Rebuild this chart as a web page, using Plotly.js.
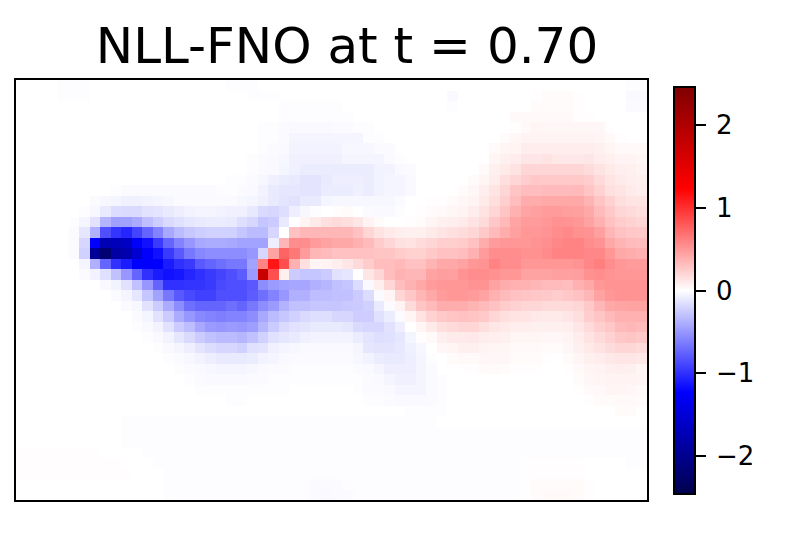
<!DOCTYPE html>
<html><head><meta charset="utf-8">
<script src="https://cdn.plot.ly/plotly-3.0.1.min.js"></script>
<style>html,body{margin:0;padding:0;background:#fff}</style></head>
<body><div id="chart" style="width:785px;height:535px"></div>
<script>
const chartTitle = "NLL-FNO at t = 0.70";
const colorTicks = [-2,-1,0,1,2];
const colorLimit = 2.46;
// field values in hundredths, 60 columns by 40 rows
const r00=[0,0,0,0,-1,-1,-1,0,0,0, 0,0,0,0,0,0,0,0,0,0, -1,-1,-1,0,0,0,0,0,0,0, 0,0,0,0,0,0,0,0,0,0, 0,0,0,0,0,0,0,0,0,0, 0,0,0,0,0,0,0,0,-1,-1];
const r01=[0,0,0,0,-1,-1,-1,0,0,0, 0,0,0,0,0,0,0,0,0,0, 0,0,-1,-1,-1,0,0,0,0,0, 0,0,0,0,0,0,0,0,0,0, 0,-3,0,0,0,0,0,0,0,1, 2,2,2,1,0,0,0,0,-3,-3];
const r02=[0,0,0,0,0,0,0,0,0,0, 0,0,0,0,0,0,0,0,0,0, 0,0,0,0,0,-1,-1,-1,-1,-1, -1,0,0,0,0,0,0,0,0,0, 0,-1,0,0,0,0,0,0,0,2, 2,2,2,1,0,0,0,0,-2,-2];
const r03=[0,0,0,0,0,0,0,0,0,0, 0,0,0,0,0,0,0,0,0,0, 0,0,0,0,0,-1,-1,-1,-1,-1, -1,-1,0,0,0,0,0,0,0,0, 0,0,0,0,0,0,0,3,3,3, 3,3,3,1,1,0,0,0,0,0];
const r04=[0,0,0,0,0,0,0,0,0,0, 0,0,0,0,0,0,0,0,0,0, 0,0,0,-1,-1,-2,-3,-3,-3,-3, -2,-2,-1,-1,0,0,0,0,0,0, 0,0,0,0,0,0,0,1,3,5, 4,4,4,4,4,4,1,0,0,0];
const r05=[0,0,0,0,0,0,0,0,0,0, 0,0,0,0,0,0,0,0,0,0, 0,0,0,-1,-1,-2,-5,-5,-5,-5, -5,-5,-5,-1,-1,0,0,0,0,0, 0,0,0,0,0,0,2,4,6,6, 6,6,6,6,6,5,3,1,0,0];
const r06=[0,0,0,0,0,0,0,0,0,0, 0,0,0,0,0,0,0,0,0,0, 0,0,0,-1,-2,-3,-6,-6,-6,-6, -6,-4,-4,-4,-2,-2,0,0,0,0, 0,0,0,0,0,3,5,6,9,9, 9,9,9,9,9,7,5,3,3,3];
const r07=[0,0,0,0,0,0,0,0,0,0, 0,0,0,0,0,0,0,0,0,0, 0,0,-1,-2,-3,-4,-7,-7,-7,-7, -7,-5,-5,-5,-5,-2,-1,0,0,0, 0,0,0,0,0,5,7,9,12,12, 14,11,11,11,12,9,7,6,6,4];
const r08=[0,0,0,0,0,0,0,0,0,0, 0,0,0,0,0,0,0,0,0,0, 0,0,-1,-2,-3,-5,-7,-9,-9,-9, -9,-9,-9,-9,-6,-6,-3,-2,0,0, 0,0,0,0,3,7,10,14,20,20, 20,20,20,20,17,14,10,8,7,6];
const r09=[0,0,0,0,0,0,0,0,0,0, 0,0,0,0,0,0,0,0,0,0, -1,-1,-2,-4,-7,-9,-10,-13,-13,-10, -8,-8,-8,-9,-6,-5,-5,-3,0,0, 0,0,0,2,5,9,16,20,24,27, 26,26,26,26,24,18,13,10,8,7];
const r10=[0,0,0,0,0,0,0,0,0,-1, -2,-2,-2,-2,-2,-2,-2,-2,-2,-1, -1,-2,-3,-6,-10,-12,-12,-13,-13,-9, -9,-9,-7,-9,-6,-5,-5,-3,0,0, 0,0,2,4,8,13,20,28,32,32, 33,33,33,34,28,22,15,13,10,8];
const r11=[0,0,0,0,0,0,0,-2,-4,-5, -7,-7,-6,-5,-4,-2,-2,-2,-2,-2, -2,-4,-5,-7,-10,-13,-14,-10,-10,-5, -4,-4,-4,-4,-4,-4,-2,0,0,1, 1,2,4,6,10,16,23,32,40,40, 42,42,42,42,36,28,22,16,13,13];
const r12=[0,0,0,0,0,0,-1,-4,-10,-17, -18,-18,-14,-13,-10,-8,-6,-5,-5,-6, -7,-7,-11,-18,-20,-16,-8,-4,-1,0, 1,2,0,-2,-3,-3,-1,0,1,2, 3,4,6,9,14,20,28,38,44,46, 48,48,47,46,42,33,26,20,18,16];
const r13=[0,0,0,0,0,-1,-5,-14,-36,-46, -46,-41,-31,-24,-18,-15,-12,-10,-9,-9, -10,-16,-20,-28,-25,-10,0,6,10,15, 18,16,12,6,2,0,0,1,2,5, 7,8,10,14,18,27,34,44,48,48, 50,53,52,50,45,38,30,25,22,20];
const r14=[0,0,0,0,0,-2,-12,-38,-85,-98, -105,-90,-75,-60,-42,-33,-27,-24,-22,-22, -22,-28,-33,-33,-20,0,30,35,35,35, 35,35,30,20,14,10,8,7,7,10, 13,15,17,20,26,33,40,46,50,50, 52,55,57,53,52,46,35,30,27,26];
const r15=[0,0,0,0,0,-2,-20,-123,-175,-170, -165,-125,-115,-95,-75,-60,-50,-42,-40,-40, -42,-45,-45,-45,-8,35,55,55,48,45, 42,42,38,33,25,20,15,14,17,20, 23,23,25,30,40,48,50,50,50,52, 54,58,60,60,55,52,42,36,33,32];
const r16=[0,0,0,0,0,-2,-22,-195,-220,-185, -180,-155,-125,-115,-95,-80,-65,-58,-55,-55, -55,-55,-50,-20,45,75,65,48,35,33, 30,30,30,30,28,28,25,22,22,26, 30,30,32,38,48,55,55,55,53,53, 56,60,60,60,58,58,50,42,40,38];
const r17=[0,0,0,0,0,0,-5,-38,-75,-100, -110,-123,-125,-123,-110,-100,-95,-80,-75,-70, -65,-65,-45,60,113,85,38,15,5,6, 8,12,18,25,32,32,34,30,30,36, 42,42,45,50,52,60,55,55,50,50, 50,50,50,52,58,62,55,50,48,48];
const r18=[0,0,0,0,0,0,-2,-6,-15,-30, -50,-75,-100,-110,-115,-112,-105,-100,-95,-90, -85,-78,-48,176,85,7,-25,-28,-28,-25, -14,-12,0,12,20,32,37,35,35,45, 47,46,52,55,55,53,50,50,45,45, 45,46,46,47,53,55,52,50,50,50];
const r19=[0,0,0,0,0,0,0,0,-3,-6, -14,-30,-50,-75,-100,-100,-98,-98,-95,-88, -85,-85,-80,-55,-48,-45,-43,-43,-38,-35, -30,-28,-17,-3,8,20,32,37,42,48, 50,50,50,52,52,45,40,38,37,35, 33,33,32,38,42,50,52,52,52,52];
const r20=[0,0,0,0,0,0,0,0,0,-2, -5,-12,-28,-45,-65,-80,-88,-92,-92,-85, -85,-85,-78,-70,-60,-50,-38,-38,-32,-32, -30,-30,-25,-17,-2,5,20,27,35,42, 48,50,50,48,45,38,33,30,28,27, 26,24,27,30,35,45,50,52,52,52];
const r21=[0,0,0,0,0,0,0,0,0,0, -2,-4,-14,-25,-40,-55,-70,-75,-75,-75, -70,-75,-65,-55,-48,-37,-30,-30,-28,-28, -28,-26,-25,-22,-10,-2,6,18,28,33, 40,40,40,36,33,30,25,22,20,20, 18,18,18,20,26,35,42,44,45,45];
const r22=[0,0,0,0,0,0,0,0,0,0, 0,-2,-5,-14,-25,-40,-50,-57,-60,-62, -60,-60,-55,-42,-33,-27,-22,-18,-16,-16, -20,-20,-24,-24,-15,-9,-2,5,14,22, 26,28,30,28,26,20,16,14,13,11, 10,10,12,16,24,28,34,38,38,38];
const r23=[0,0,0,0,0,0,0,0,0,0, 0,-1,-3,-6,-14,-25,-32,-42,-48,-50, -48,-50,-47,-35,-25,-18,-14,-13,-10,-10, -10,-12,-18,-20,-20,-14,-8,0,5,10, 16,18,20,20,16,12,10,8,8,7, 7,7,8,12,18,23,27,33,35,33];
const r24=[0,0,0,0,0,0,0,0,0,0, 0,0,-1,-3,-6,-12,-18,-25,-30,-33, -33,-35,-30,-22,-15,-12,-10,-7,-6,-6, -6,-6,-9,-13,-16,-15,-12,-5,1,3, 8,10,10,11,9,8,7,5,5,5, 4,4,6,9,14,18,22,27,28,26];
const r25=[0,0,0,0,0,0,0,0,0,0, 0,0,0,-1,-3,-5,-8,-13,-17,-20, -20,-22,-15,-13,-7,-5,-4,-3,-3,-3, -3,-3,-5,-12,-13,-13,-11,-7,-4,0, 4,5,7,7,6,5,5,3,3,3, 2,2,4,7,10,14,17,20,20,18];
const r26=[0,0,0,0,0,0,0,0,0,0, 0,0,0,0,-1,-2,-4,-6,-8,-10, -10,-10,-9,-6,-5,-3,-2,-2,-2,-2, -2,-2,-4,-6,-9,-10,-10,-8,-5,-1, 0,2,3,3,4,4,4,2,2,2, 1,0,2,5,7,9,11,12,12,11];
const r27=[0,0,0,0,0,0,0,0,0,0, 0,0,0,0,0,-1,-2,-3,-4,-5, -5,-5,-4,-3,-2,-2,-1,-1,-1,-1, -1,-1,-2,-3,-5,-8,-8,-8,-5,-2, 0,0,1,1,2,3,2,1,1,1, 0,0,1,3,5,6,7,8,7,5];
const r28=[0,0,0,0,0,0,0,0,0,0, 0,0,0,0,0,0,-1,-2,-3,-3, -3,-3,-2,-2,-1,-1,-1,-1,-1,-1, -1,-1,-1,-2,-3,-5,-7,-7,-5,-2, -1,0,0,0,0,0,0,0,0,0, 0,0,0,2,4,5,6,6,6,5];
const r29=[0,0,0,0,0,0,0,0,0,0, 0,0,0,0,0,0,0,-1,-1,-1, -1,-1,-1,-1,-1,-1,0,0,0,0, 0,0,-1,-2,-2,-3,-5,-5,-5,-2, -1,0,0,0,0,0,0,0,0,0, 0,0,0,1,3,3,5,5,4,3];
const r30=[0,0,0,0,0,0,0,0,0,0, 0,0,0,0,0,0,0,0,0,0, -1,-1,0,0,0,0,0,0,0,0, 0,0,0,-1,-1,-2,-3,-3,-3,-2, -1,0,0,0,0,0,0,0,0,0, 0,0,0,0,1,2,2,3,3,2];
const r31=[0,0,0,0,0,0,0,0,0,0, 0,0,0,0,0,0,0,0,0,0, 0,0,0,0,0,0,0,0,0,0, 0,0,0,0,0,0,0,-1,-1,-1, -1,0,0,0,0,0,0,0,0,0, 0,0,0,0,0,0,0,2,2,0];
const r32=[0,0,0,0,0,0,0,0,0,0, -1,-1,-1,-1,-1,-1,-1,-1,-1,-1, -1,-1,-1,-1,-1,-1,-1,-1,-1,-1, -1,-1,-1,-1,-1,-1,-1,-1,-1,-1, 0,0,0,0,0,0,0,0,0,0, 0,0,0,0,0,0,0,0,0,0];
const r33=[0,0,0,0,0,0,0,0,0,0, -1,-1,-1,-1,-1,-1,-1,-1,-1,-1, -1,-1,-1,-1,-1,-1,-1,-1,-1,-1, -1,-1,-1,-1,-1,-1,-1,-1,-1,-1, -1,-1,-1,-1,-1,-1,-1,-1,-1,-1, -1,-1,-1,-1,-1,-1,-1,-1,-1,-1];
const r34=[0,0,0,0,0,0,0,0,0,0, -1,-1,-1,-1,-1,-1,-1,-1,-1,-1, -1,-1,-1,-1,-1,-1,-1,-1,-1,-1, -1,-1,-1,-1,-1,-1,-1,-1,-1,-1, -1,-1,-1,-1,-1,-1,-1,-1,-1,-1, -1,-1,-1,-1,-1,-1,-1,-1,-1,-1];
const r35=[1,1,1,1,1,1,1,1,0,0, 0,0,-1,-1,-1,-1,-1,-1,-1,-1, -1,-1,-1,-1,-1,-1,-1,-1,-1,-1, -1,-1,-1,-1,-1,-1,-1,-1,-1,-1, -1,-1,-1,-1,-1,-1,-1,-1,-1,-1, -1,-1,-1,-1,-1,-1,-1,-1,-1,-1];
const r36=[1,1,1,1,1,1,1,1,1,1, 0,0,0,-1,-1,-1,-1,-1,-1,-1, -1,-1,-1,-1,-1,-1,-1,-1,-1,-1, -1,-1,-1,-1,-1,-1,-1,-1,-1,-1, -1,-1,-1,-1,-1,-1,-1,-1,1,1, 1,1,1,1,0,0,0,0,-1,-1];
const r37=[1,1,1,1,1,1,1,1,1,1, 1,0,0,0,-1,-1,-1,-1,-1,-1, -1,-1,-1,-1,-1,-1,-1,-1,-1,-1, -1,-1,-1,-1,-1,-1,-1,-1,-1,-1, -1,-1,-1,-1,-1,-1,-1,-1,1,1, 1,1,1,1,0,0,0,0,0,0];
const r38=[0,0,0,0,0,0,0,0,0,0, 0,0,0,0,-1,-1,-1,-1,-1,-1, -1,-1,-1,-1,-1,-1,-1,-1,-2,-2, -2,-1,-1,-1,-1,-1,-1,-1,-1,-1, -1,-1,-1,-1,-1,-1,-1,-1,1,2, 2,2,2,2,1,0,0,0,0,0];
const r39=[0,0,0,0,0,0,0,0,0,0, 0,0,0,0,-1,-1,-1,-1,-1,-1, -1,-1,-1,-1,-1,-1,-1,-1,-2,-3, -2,-2,-1,-1,-1,-1,-1,-1,-1,-1, -1,-1,-1,-1,-1,-1,-1,-1,1,2, 3,3,3,2,1,0,0,0,0,0];
const rows=[r00,r01,r02,r03,r04,r05,r06,r07,r08,r09,r10,r11,r12,r13,r14,r15,r16,r17,r18,r19,r20,r21,r22,r23,r24,r25,r26,r27,r28,r29,r30,r31,r32,r33,r34,r35,r36,r37,r38,r39];
const seismic=[[0,'rgb(0,0,77)'],[0.25,'rgb(0,0,255)'],[0.5,'rgb(255,255,255)'],[0.75,'rgb(255,0,0)'],[1,'rgb(128,0,0)']];
const font="DejaVu Sans";
Plotly.newPlot('chart',[{
  type:'heatmap',
  z:rows.map(r=>r.map(v=>v/100)),
  colorscale:seismic,zmin:-colorLimit,zmax:colorLimit,zsmooth:false,
  hoverinfo:'skip',
  colorbar:{
    thicknessmode:'pixels',thickness:21,lenmode:'pixels',len:407,
    x:(674-16)/631,xanchor:'left',xpad:0,
    y:(500-87)/420,yanchor:'top',ypad:0,
    outlinewidth:2,outlinecolor:'#000',
    tickmode:'array',tickvals:colorTicks,ticktext:colorTicks.map(v=>'\u2009'+(v<0?'\u2212'+(-v):String(v))),
    ticks:'outside',ticklen:10,tickwidth:2,tickcolor:'#000',
    tickfont:{family:font,size:26,color:'#000'}
  }
}],{
  width:785,height:535,
  margin:{l:16,r:138,t:80,b:35,pad:0},
  paper_bgcolor:'#fff',plot_bgcolor:'#fff',
  title:{text:chartTitle,font:{family:font,size:50,color:'#000'},x:347/785,xanchor:'center',y:1-45/535,yanchor:'middle'},
  xaxis:{range:[-0.5,59.5],showticklabels:false,ticks:'',showgrid:false,zeroline:false,showline:true,mirror:true,linecolor:'#000',linewidth:2},
  yaxis:{range:[39.5,-0.5],showticklabels:false,ticks:'',showgrid:false,zeroline:false,showline:true,mirror:true,linecolor:'#000',linewidth:2}
},{displayModeBar:false,staticPlot:true});
</script></body></html>
